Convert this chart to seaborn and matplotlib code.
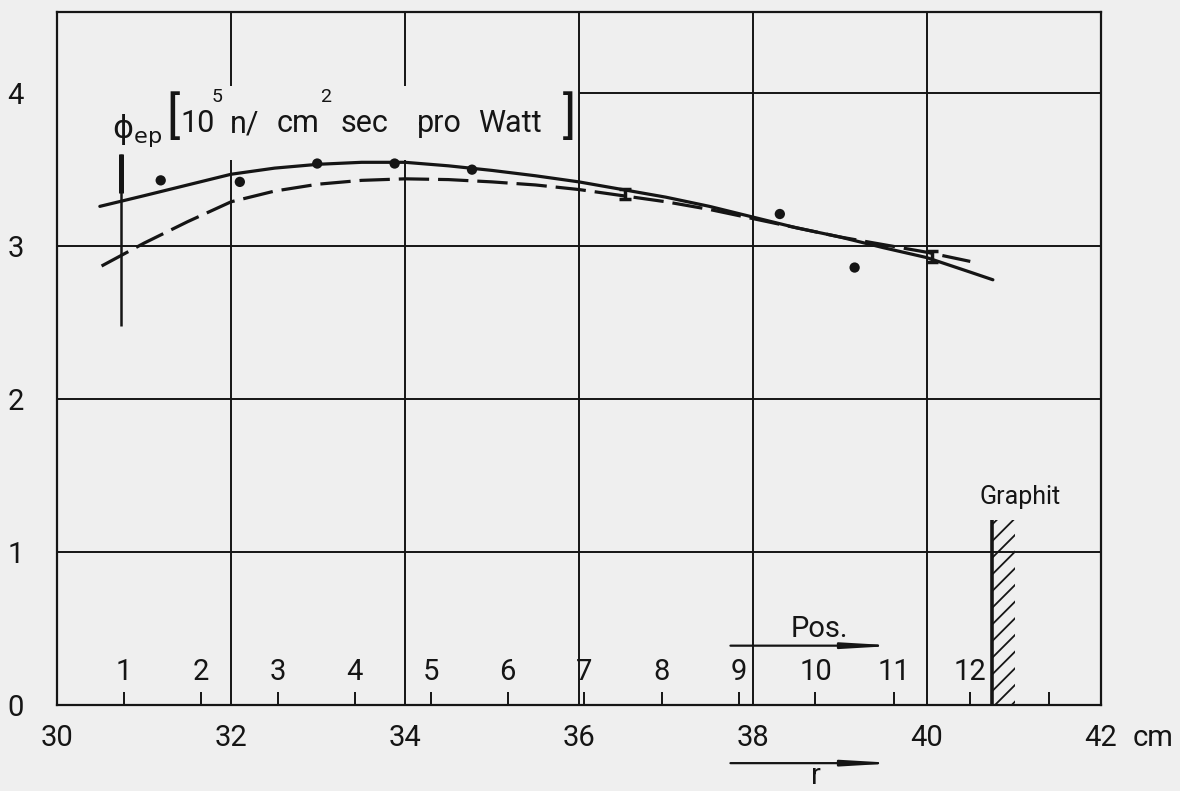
import numpy as np
import pandas as pd
import matplotlib
matplotlib.use("Agg")
import matplotlib.pyplot as plt
from matplotlib.patches import Rectangle
import seaborn as sns

# --- measured flux per position (dots) ---
dot_r = [31.19, 32.10, 32.99, 33.88, 34.77, 38.31, 39.17]
dot_phi = [3.43, 3.42, 3.54, 3.54, 3.50, 3.21, 2.86]

# --- points with small error bars ---
err_r = [36.53, 40.06]
err_phi = [3.34, 2.93]
err_size = [0.035, 0.035]

# --- fitted curves ---
solid_r = [30.49, 31.0, 31.5, 32.0, 32.5, 33.0, 33.5, 34.0, 34.5, 35.0, 35.5,
           36.0, 36.5, 37.0, 37.5, 38.0, 38.5, 39.0, 39.5, 40.0, 40.5, 40.76]
solid_phi = [3.26, 3.33, 3.40, 3.47, 3.51, 3.535, 3.548, 3.548, 3.525, 3.495, 3.46,
             3.42, 3.37, 3.32, 3.26, 3.19, 3.12, 3.06, 2.99, 2.925, 2.83, 2.78]
dash_r = [30.51, 31.0, 31.5, 32.0, 32.5, 33.0, 33.5, 34.0, 34.5, 35.0, 35.5,
          36.0, 36.5, 37.0, 37.5, 38.0, 38.5, 39.0, 39.5, 40.0, 40.5]
dash_phi = [2.87, 3.02, 3.16, 3.29, 3.36, 3.405, 3.43, 3.44, 3.435, 3.42, 3.40,
            3.37, 3.33, 3.29, 3.24, 3.18, 3.12, 3.06, 3.01, 2.96, 2.90]

# --- uncertainty bar at the first position ---
bar_r = 30.73
bar_lo, bar_hi = 2.48, 3.60
bar_thick_lo = 3.35

# --- position numbers along the radius ---
pos_r = [30.77, 31.65, 32.54, 33.42, 34.30, 35.18, 36.06, 36.95, 37.84, 38.72,
         39.62, 40.50, 41.40]
pos_labels = ["1", "2", "3", "4", "5", "6", "7", "8", "9", "10", "11", "12", ""]

x_ticks = [30, 32, 34, 36, 38, 40, 42]
y_ticks = [0, 1, 2, 3, 4]

graphite_r = 40.75
graphite_width = 0.26
graphite_top = 1.21

BG = "#efefef"
INK = "#151515"

sns.set_theme(style="white")
plt.rcParams["font.family"] = ["Roboto", "DejaVu Sans"]
plt.rcParams["mathtext.fontset"] = "dejavusans"
plt.rcParams["hatch.linewidth"] = 1.3
plt.rcParams["hatch.color"] = INK

fig = plt.figure(figsize=(11.8, 7.91), dpi=100, facecolor=BG)
ax = fig.add_axes([0.0485, 0.1087, 0.8843, 0.876], facecolor=BG)
ax.set_xlim(30, 42)
ax.set_ylim(0, 4.53)

# grid (left part of the top row is left open for the quantity label)
grid_kw = dict(color=INK, lw=1.4, zorder=1)
for xv in [36, 38, 40]:
    ax.vlines(xv, 0, 4.53, **grid_kw)
for xv in [32, 34]:
    ax.vlines(xv, 0, 3.56, **grid_kw)
    ax.vlines(xv, 4.05, 4.53, **grid_kw)
for yv in [1, 2, 3]:
    ax.hlines(yv, 30, 42, **grid_kw)
ax.hlines(4, 36, 42, **grid_kw)

# curves
solid = pd.DataFrame({"r": solid_r, "phi": solid_phi})
dashed = pd.DataFrame({"r": dash_r, "phi": dash_phi})
sns.lineplot(data=solid, x="r", y="phi", ax=ax, color=INK, lw=2.3,
             estimator=None, zorder=3)
sns.lineplot(data=dashed, x="r", y="phi", ax=ax, color=INK, lw=2.3,
             estimator=None, zorder=3, linestyle=(0, (9.5, 2.8)))

# measured points
sns.scatterplot(x=dot_r, y=dot_phi, ax=ax, color=INK, s=55, edgecolor="none", zorder=4)
ax.errorbar(err_r, err_phi, yerr=err_size, fmt="none", ecolor=INK, elinewidth=2.5,
            capsize=4.5, capthick=2.5, zorder=4)

# uncertainty bar at position 1
ax.vlines(bar_r, bar_lo, bar_hi, color=INK, lw=1.8, zorder=4)
ax.vlines(bar_r, bar_thick_lo, bar_hi, color=INK, lw=3.6, zorder=4)

# quantity label, set word by word
lab_kw = dict(color=INK, zorder=5)
ax.text(30.625, 3.71, r"$\mathrm{\phi_{ep}}$", fontsize=23,
        ha="left", va="baseline", **lab_kw)
ax.text(31.33, 3.840, "[", fontsize=36, ha="center", va="center", **lab_kw)
ax.text(35.887, 3.840, "]", fontsize=36, ha="center", va="center", **lab_kw)
base_y = 3.745
for x, word in [(31.413, "10"), (31.990, "n/"), (32.525, "cm"), (33.264, "sec"),
                (34.137, "pro"), (34.838, "Watt")]:
    ax.text(x, base_y, word, fontsize=22, ha="left", va="baseline", **lab_kw)
for x, sup in [(31.780, "5"), (33.020, "2")]:
    ax.text(x, 3.941, sup, fontsize=14, ha="left", va="baseline", **lab_kw)

# position numbers with small ticks
ax.vlines(pos_r, 0, 0.087, color=INK, lw=1.4, zorder=2)
for r, lab in zip(pos_r, pos_labels):
    ax.text(r, 0.218, lab, fontsize=21, color=INK, ha="center", va="center")

# "Pos." direction arrow
arrow_kw = dict(arrowstyle="-|>,head_length=2.4,head_width=0.14", lw=1.6, color=INK)
ax.annotate("", xy=(39.69, 0.388), xytext=(37.71, 0.388), arrowprops=arrow_kw)
ax.text(38.77, 0.50, "Pos.", fontsize=21, color=INK, ha="center", va="center")

# graphite reflector boundary
ax.add_patch(Rectangle((graphite_r, 0), graphite_width, graphite_top,
                       facecolor="none", edgecolor=INK, lw=0, hatch="//", zorder=2))
ax.vlines(graphite_r, 0, graphite_top, color=INK, lw=2.6, zorder=3)
ax.text(41.07, 1.36, "Graphit", fontsize=18, color=INK, ha="center", va="center")

# axes styling
ax.set_xticks(x_ticks)
ax.set_xticklabels([str(t) for t in x_ticks])
ax.set_yticks(y_ticks)
ax.set_yticklabels([str(t) for t in y_ticks])
ax.tick_params(axis="x", length=0, pad=14, labelsize=21, labelcolor=INK)
ax.tick_params(axis="y", direction="in", length=14, width=1.4, color=INK, pad=24,
               labelsize=21, labelcolor=INK)
for sp in ax.spines.values():
    sp.set_visible(True)
    sp.set_color(INK)
    sp.set_linewidth(1.6)
ax.set_xlabel("")
ax.set_ylabel("")

ax.text(42.60, -0.216, "cm", fontsize=21, color=INK, ha="center", va="center",
        clip_on=False)

# radius direction arrow below the axis
ax.annotate("", xy=(39.69, -0.38), xytext=(37.71, -0.38), annotation_clip=False,
            arrowprops=arrow_kw)
ax.text(38.73, -0.553, "r", fontsize=21, color=INK, ha="center", va="bottom",
        clip_on=False)

fig.savefig("out.png", dpi=100, facecolor=BG)
